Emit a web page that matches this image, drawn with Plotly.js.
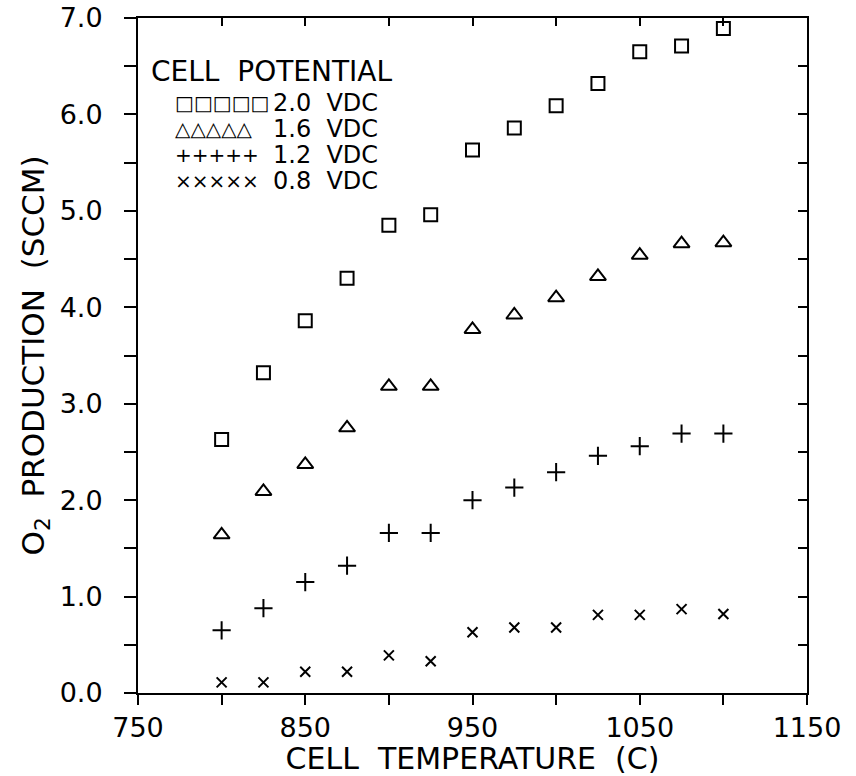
<!DOCTYPE html>
<html>
<head>
<meta charset="utf-8">
<script src="https://cdn.plot.ly/plotly-3.0.1.min.js"></script>
<style>html,body{margin:0;padding:0;background:#fff;}#chart{width:856px;height:776px;}</style>
</head>
<body>
<div id="chart"></div>
<script>
const temperature = [800, 825, 850, 875, 900, 925, 950, 975, 1000, 1025, 1050, 1075, 1100];
const o2_2_0 = [2.63, 3.32, 3.86, 4.30, 4.85, 4.96, 5.63, 5.86, 6.09, 6.32, 6.65, 6.71, 6.89];
const o2_1_6 = [1.64, 2.09, 2.37, 2.75, 3.18, 3.18, 3.77, 3.92, 4.10, 4.32, 4.54, 4.66, 4.67];
const o2_1_2 = [0.65, 0.88, 1.15, 1.32, 1.66, 1.66, 2.00, 2.13, 2.29, 2.46, 2.56, 2.69, 2.69];
const o2_0_8 = [0.11, 0.11, 0.22, 0.22, 0.39, 0.33, 0.63, 0.68, 0.68, 0.81, 0.81, 0.87, 0.82];
const seriesNames = ['2.0  VDC', '1.6  VDC', '1.2  VDC', '0.8  VDC'];
const legendGlyphs = ['\u25A1\u25A1\u25A1\u25A1\u25A1', '\u25B3\u25B3\u25B3\u25B3\u25B3', '+++++', '\u00D7\u00D7\u00D7\u00D7\u00D7'];
const legendTitle = 'CELL  POTENTIAL';
const xTickVals = [750, 800, 850, 900, 950, 1000, 1050, 1100, 1150];
const xTickText = ['750', '', '850', '', '950', '', '1050', '', '1150'];
const yTickVals = [0, 0.5, 1, 1.5, 2, 2.5, 3, 3.5, 4, 4.5, 5, 5.5, 6, 6.5, 7];
const yTickText = ['0.0', '', '1.0', '', '2.0', '', '3.0', '', '4.0', '', '5.0', '', '6.0', '', '7.0'];

const FONT = 'DejaVu Sans, Liberation Sans, sans-serif';
const symbols = ['square-open', 'triangle-up-open', 'cross-thin-open', 'x-thin-open'];
const sizes = [13, 14, 13, 10];
const allY = [o2_2_0, o2_1_6, o2_1_2, o2_0_8];

const traces = allY.map((ys, i) => ({
  x: temperature, y: ys, type: 'scatter', mode: 'markers', name: seriesNames[i],
  xaxis: 'x', yaxis: 'y',
  marker: {symbol: symbols[i], size: sizes[i], color: 'black', line: {color: 'black', width: 2}},
  showlegend: false
}));
traces.push({x: [750], y: [0], type: 'scatter', mode: 'markers', xaxis: 'x2', yaxis: 'y2',
  marker: {opacity: 0}, hoverinfo: 'skip', showlegend: false});

const px = v => (v - 138) / 669;
const py = v => 1 - (v - 18) / 675;
const annotations = [{
  xref: 'paper', yref: 'paper', x: px(149), y: py(72),
  xanchor: 'left', yanchor: 'middle', showarrow: false,
  text: legendTitle, font: {family: FONT, size: 28, color: 'black'}
}];
const rowY = [103, 129, 155, 181];
seriesNames.forEach((n, i) => {
  annotations.push({
    xref: 'paper', yref: 'paper', x: px(173), y: py(rowY[i]),
    xanchor: 'left', yanchor: 'middle', showarrow: false,
    text: legendGlyphs[i], font: {family: FONT, size: 20, color: 'black'}
  });
  annotations.push({
    xref: 'paper', yref: 'paper', x: px(271), y: py(rowY[i]),
    xanchor: 'left', yanchor: 'middle', showarrow: false,
    text: n, font: {family: FONT, size: 24, color: 'black'}
  });
});

const layout = {
  width: 856, height: 776,
  margin: {l: 138, r: 49, t: 18, b: 83},
  paper_bgcolor: 'white', plot_bgcolor: 'white',
  font: {family: FONT, color: 'black'},
  showlegend: false,
  xaxis: {
    range: [750, 1150], tickmode: 'array', tickvals: xTickVals, ticktext: xTickText,
    ticks: 'outside', ticklen: 10, tickwidth: 2, tickcolor: 'black',
    showline: true, linecolor: 'black', linewidth: 2, showgrid: false, zeroline: false,
    tickfont: {family: FONT, size: 27, color: 'black'},
    title: {text: 'CELL  TEMPERATURE  (C)', font: {family: FONT, size: 30, color: 'black'}, standoff: 3}
  },
  yaxis: {
    range: [0, 7], tickmode: 'array', tickvals: yTickVals, ticktext: yTickText,
    ticks: 'outside', ticklen: 12, tickwidth: 2, tickcolor: 'black', ticklabelstandoff: 16,
    showline: true, linecolor: 'black', linewidth: 2, showgrid: false, zeroline: false,
    tickfont: {family: FONT, size: 27, color: 'black'},
    title: {text: 'O<sub>2</sub>  PRODUCTION  (SCCM)', font: {family: FONT, size: 31, color: 'black'}, standoff: 6}
  },
  xaxis2: {
    overlaying: 'x', side: 'top', matches: 'x', range: [750, 1150],
    tickmode: 'array', tickvals: xTickVals, showticklabels: false,
    ticks: 'inside', ticklen: 8, tickwidth: 2, tickcolor: 'black',
    showline: true, linecolor: 'black', linewidth: 2, showgrid: false, zeroline: false
  },
  yaxis2: {
    overlaying: 'y', side: 'right', matches: 'y', range: [0, 7],
    tickmode: 'array', tickvals: yTickVals, showticklabels: false,
    ticks: 'inside', ticklen: 9, tickwidth: 2, tickcolor: 'black',
    showline: true, linecolor: 'black', linewidth: 2, showgrid: false, zeroline: false
  },
  annotations: annotations
};

Plotly.newPlot('chart', traces, layout, {displayModeBar: false, staticPlot: true});
</script>
</body>
</html>
